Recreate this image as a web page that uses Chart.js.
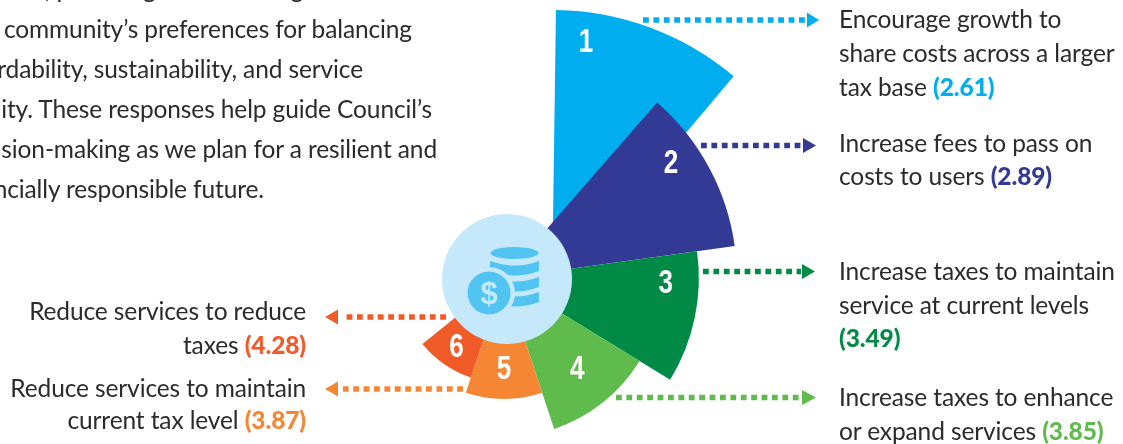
<!DOCTYPE html>
<html>
<head>
<meta charset="utf-8">
<title>Budget preferences</title>
<script src="https://cdn.jsdelivr.net/npm/chart.js@4"></script>
<style>
  html, body { margin: 0; padding: 0; background: #fff; }
  #stage { position: relative; width: 1123px; height: 444px; overflow: hidden; }
  #stage canvas, #stage svg { position: absolute; left: 0; top: 0; }
  svg text { font-family: Lato, "Open Sans", sans-serif; font-size: 24.5px; letter-spacing: -0.12px; fill: #2b2a2c; }
  svg tspan.score { font-weight: 900; }
</style>
</head>
<body>
<div id="stage">
  <canvas id="leadChart" width="1123" height="444"></canvas>
  <canvas id="mainChart" width="1123" height="444"></canvas>
  <svg id="overlay" width="1123" height="444" xmlns="http://www.w3.org/2000/svg"></svg>
</div>
<script>
// data
const categories = ['1', '2', '3', '4', '5', '6'];
const scores = ['(2.61)', '(2.89)', '(3.49)', '(3.85)', '(3.87)', '(4.28)'];
const sectorLength = [100, 82.6, 69.1, 56.4, 42.9, 37.2]; // % of the longest sector
const sectorSweep = [39.3, 41, 39.4, 40.1, 36.8, 32.6]; // degrees
const sectorColors = ['#00aeef', '#333a96', '#008a45', '#60bb4d', '#f58634', '#f15a29'];

// where each number sits inside its sector
const numberAlong = [0.176, 0.34, 0.236, 0.484, 0.5, 0.509];
const numberOut = [0.9, 0.875, 0.83, 0.73, 0.744, 0.79];

const unitPx = 2.82; // pixels per sectorLength unit

const sectorNumbers = {
  id: 'sectorNumbers',
  afterDatasetsDraw(chart, args, opts) {
    const ctx = chart.ctx;
    ctx.save();
    ctx.fillStyle = '#fff';
    ctx.font = 'bold 34px "Liberation Sans", sans-serif';
    ctx.textAlign = 'center';
    ctx.textBaseline = 'middle';
    chart.getDatasetMeta(0).data.forEach((arc, i) => {
      const k = opts.first + i;
      const a = arc.startAngle + (arc.endAngle - arc.startAngle) * numberAlong[k];
      const r = arc.outerRadius * numberOut[k];
      // maxWidth squeezes the digit to the narrow look of the original
      ctx.fillText(categories[k], arc.x + Math.cos(a) * r, arc.y + Math.sin(a) * r + 2, 14.5);
    });
    ctx.restore();
  }
};

function sectorChart(id, first, last, startAngle, cx, cy) {
  return new Chart(document.getElementById(id), {
    type: 'polarArea',
    data: {
      labels: categories.slice(first, last),
      datasets: [{
        data: sectorLength.slice(first, last),
        angle: sectorSweep.slice(first, last),
        backgroundColor: sectorColors.slice(first, last),
        borderWidth: 0,
        clip: false
      }]
    },
    plugins: [sectorNumbers],
    options: {
      responsive: false,
      animation: false,
      layout: { padding: { top: 2 * cy - 444, right: 1123 - 2 * cx, left: 0, bottom: 0 } },
      plugins: {
        legend: { display: false },
        tooltip: { enabled: false },
        sectorNumbers: { first: first }
      },
      scales: {
        r: {
          display: false,
          min: 0,
          max: (444 - cy) / unitPx,
          startAngle: startAngle
        }
      }
    }
  });
}

// sector 1 sits off to the side of the others, on its own canvas under them
sectorChart('leadChart', 0, 1, 0.8, 552, 292);
sectorChart('mainChart', 1, 6, 41.1, 504, 278);

// annotations: text, dotted leaders, money icon
const svg = document.getElementById('overlay');
function el(tag, attrs, parent) {
  const n = document.createElementNS('http://www.w3.org/2000/svg', tag);
  for (const k in attrs) n.setAttribute(k, attrs[k]);
  (parent || svg).appendChild(n);
  return n;
}

function line(x, y, anchor, parts) {
  const t = el('text', { x: x, y: y, 'text-anchor': anchor });
  parts.forEach(p => {
    const s = el('tspan', p.color ? { class: 'score', style: 'fill:' + p.color } : {}, t);
    s.textContent = p.text;
  });
}

const introLines = [
  ['results, providing valuable insight into the', 414, -2],
  ['the community\u2019s preferences for balancing', 412, 38],
  ['affordability, sustainability, and service', 363, 78],
  ['quality. These responses help guide Council\u2019s', 432, 118],
  ['decision-making as we plan for a resilient and', 437, 158],
  ['financially responsible future.', 264, 198]
];
introLines.forEach(l => line(l[1], l[2], 'end', [{ text: l[0] }]));

const rightLines = [
  [28, 'Encourage growth to'],
  [62, 'share costs across a larger'],
  [96, 'tax base ', 0],
  [152, 'Increase fees to pass on'],
  [185, 'costs to users ', 1],
  [280, 'Increase taxes to maintain'],
  [314, 'service at current levels'],
  [347, '', 2],
  [406, 'Increase taxes to enhance'],
  [440, 'or expand services ', 3]
];
rightLines.forEach(l => {
  const parts = [{ text: l[1] }];
  if (l[2] !== undefined) parts.push({ text: scores[l[2]], color: sectorColors[l[2]] });
  line(839, l[0], 'start', parts);
});

const leftLines = [
  [320, 'Reduce services to reduce'],
  [354, 'taxes ', 5],
  [397, 'Reduce services to maintain'],
  [429, 'current tax level ', 4]
];
leftLines.forEach(l => {
  const parts = [{ text: l[1] }];
  if (l[2] !== undefined) parts.push({ text: scores[l[2]], color: sectorColors[l[2]] });
  line(306, l[0], 'end', parts);
});

// [sector, y, dots from, dots to, arrow base, arrow tip]
const leaders = [
  [0, 20, 643, 806, 807, 819],
  [1, 145.5, 701, 802, 803, 816],
  [2, 271.5, 703, 801, 802, 815],
  [3, 397.5, 616, 801, 802, 816],
  [5, 317, 446, 343, 338, 325],
  [4, 389, 463, 343, 338, 325]
];
leaders.forEach(l => {
  const c = sectorColors[l[0]];
  el('line', { x1: l[2], y1: l[1], x2: l[3], y2: l[1], stroke: c, 'stroke-width': 5.5, 'stroke-dasharray': '5.8 4.6' });
  el('polygon', { points: `${l[4]},${l[1] - 7.5} ${l[5]},${l[1]} ${l[4]},${l[1] + 7.5}`, fill: c });
});

// centre disc with the coin and stack
const pale = '#c5e9fb', icon = '#52c4f2';
el('circle', { cx: 507, cy: 279, r: 65, fill: pale });
el('ellipse', { cx: 514.5, cy: 253, rx: 24, ry: 6, fill: icon });
[261, 277, 292].forEach(y => {
  el('path', { d: `M490,${y} Q514.5,${y + 9} 539,${y} L539,${y + 10} Q514.5,${y + 19} 490,${y + 10} Z`, fill: icon });
});
el('circle', { cx: 489, cy: 293, r: 26, fill: pale });
el('circle', { cx: 489, cy: 293, r: 21.5, fill: icon });
const dollar = el('text', { x: 489, y: 304, 'text-anchor': 'middle', style: 'fill:' + pale + ';font-family:\'Liberation Sans\';font-weight:700;font-size:31px;letter-spacing:0' });
dollar.textContent = '$';
</script>
</body>
</html>
